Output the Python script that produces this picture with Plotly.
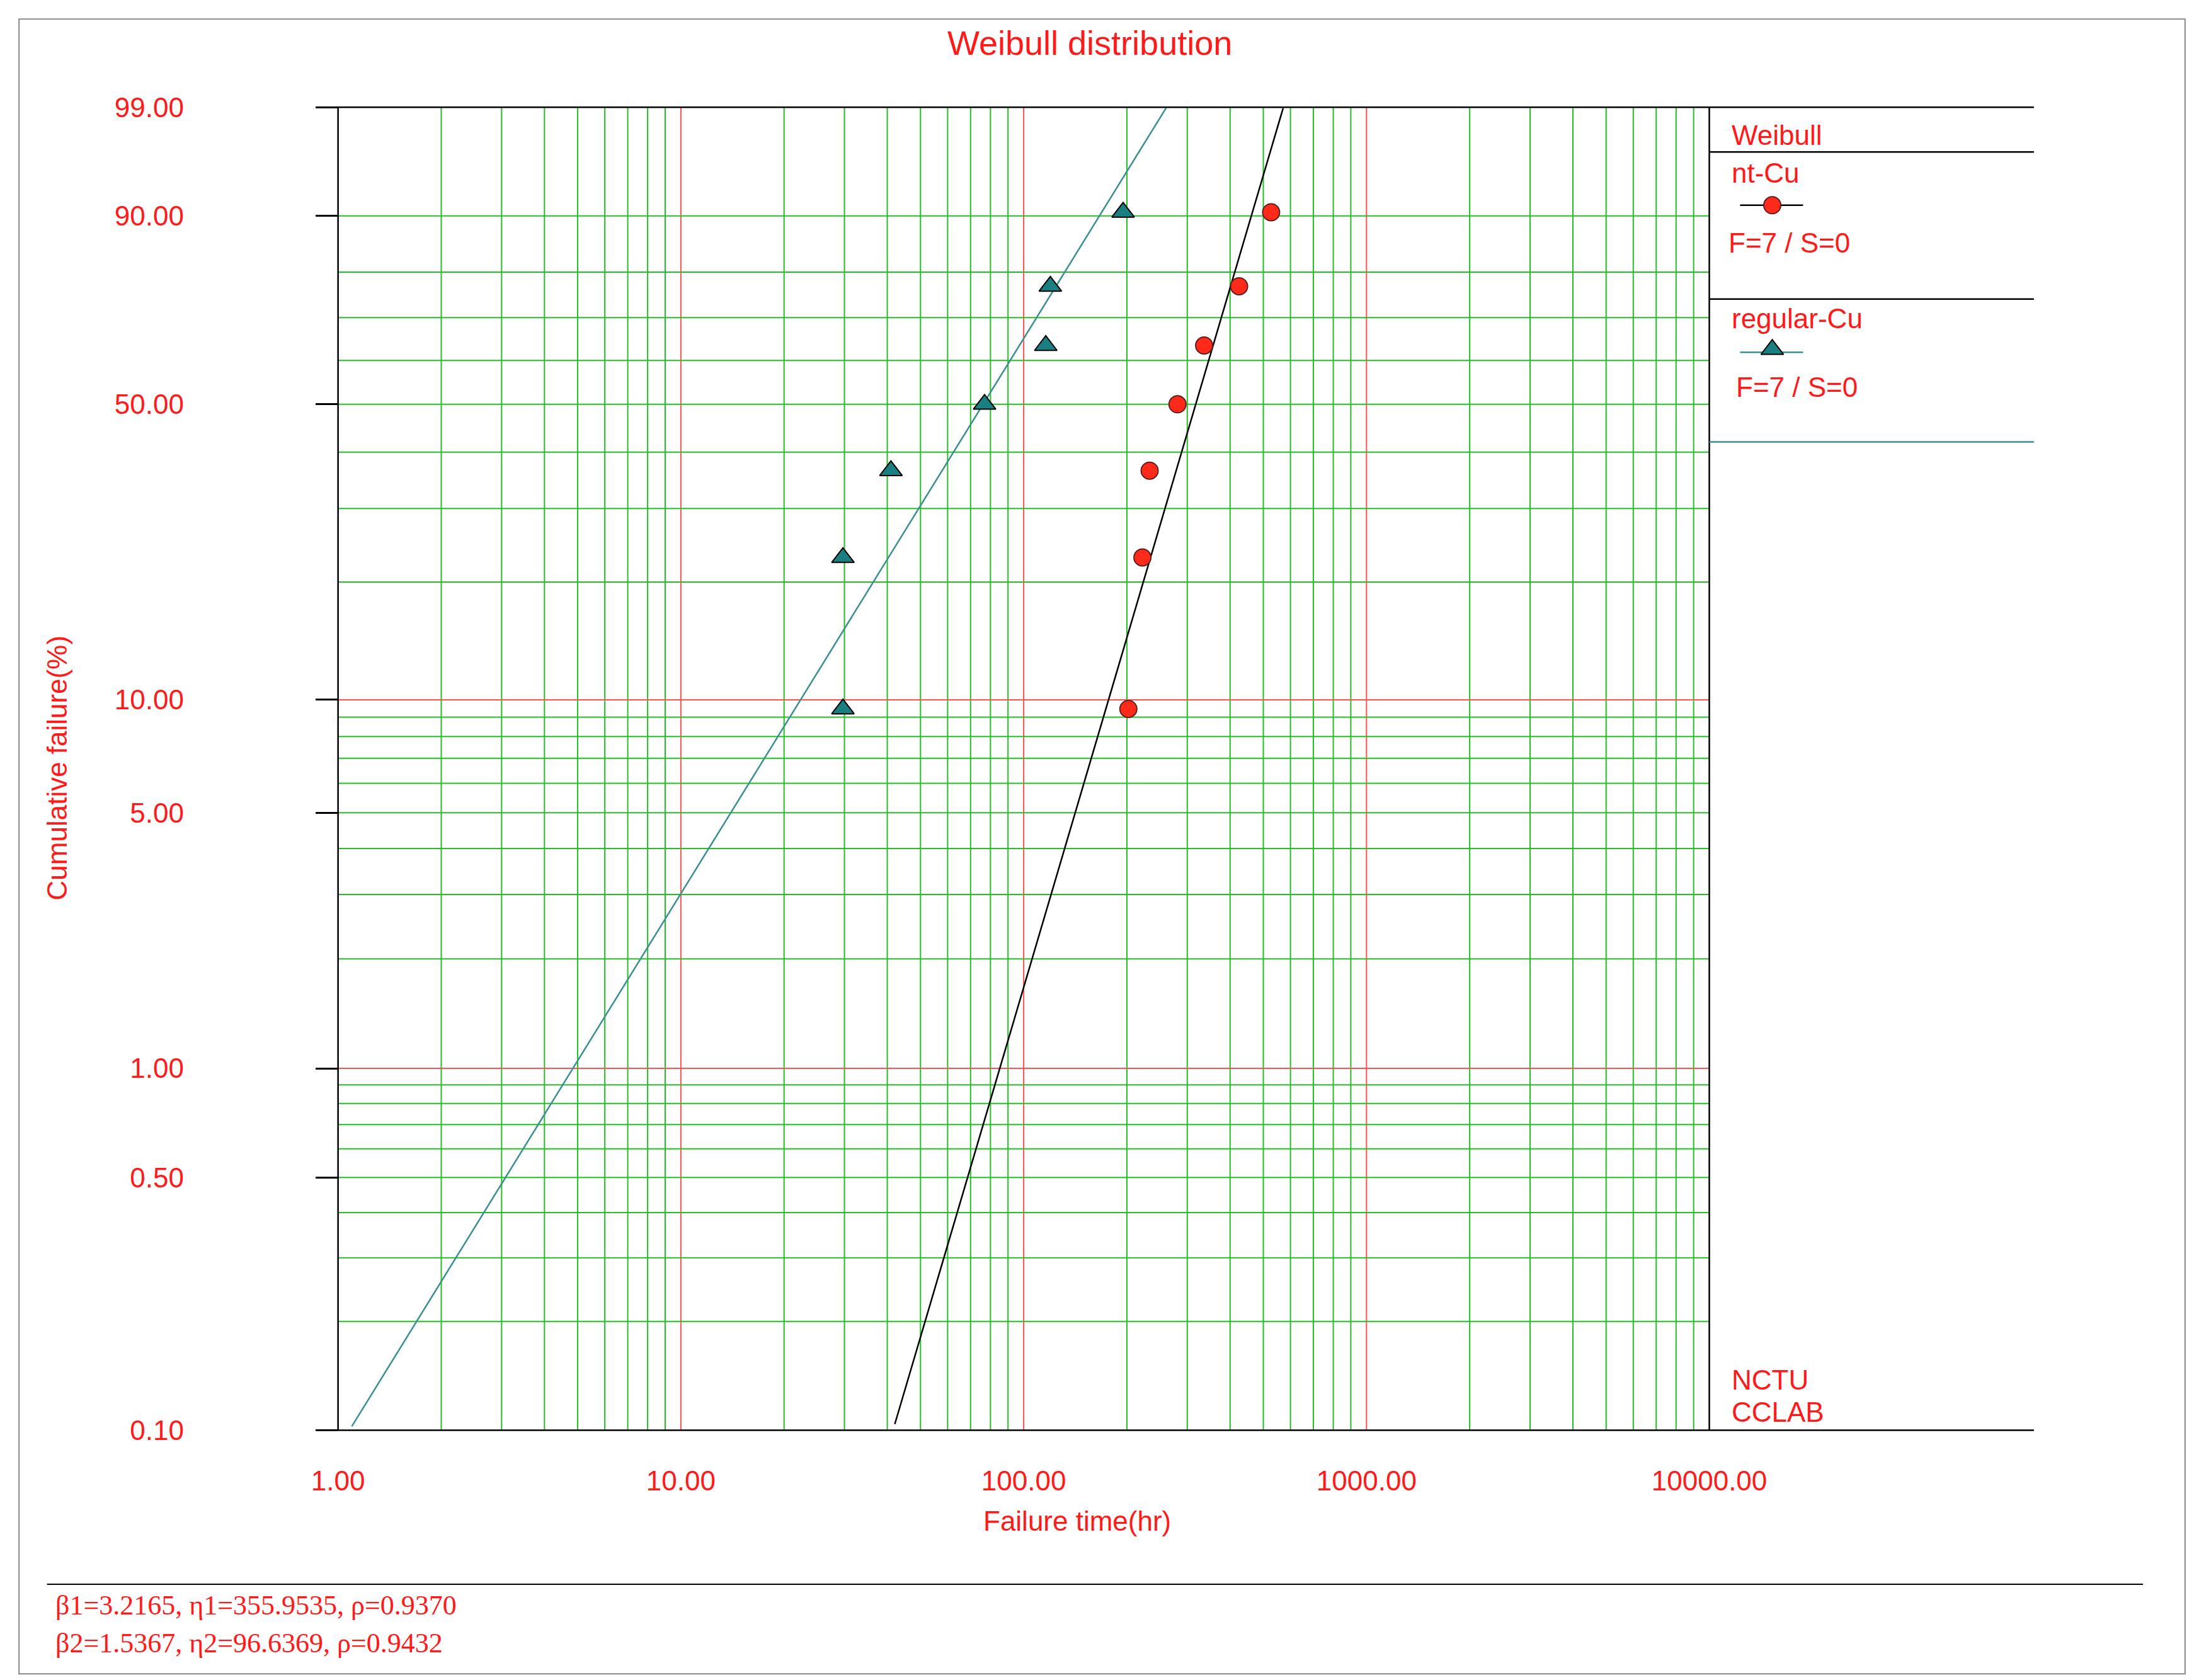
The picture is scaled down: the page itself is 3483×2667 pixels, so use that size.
import numpy as np
import plotly.graph_objects as go

W, H = 3483, 2667
# data
nt_time = [202, 222, 233, 281, 336, 425, 527]
reg_time = [29.7, 29.7, 41, 76.9, 116, 119.6, 195]
F_pct = [9.46, 22.97, 36.49, 50.0, 63.51, 77.03, 90.54]
beta1, eta1 = 3.2165, 355.9535
beta2, eta2 = 1.5367, 96.6369
y_ticks = [0.1, 0.5, 1, 5, 10, 50, 90, 99]
y_tick_text = ["0.10", "0.50", "1.00", "5.00", "10.00", "50.00", "90.00", "99.00"]
y_grid_green = [0.2, 0.3, 0.4, 0.5, 0.6, 0.7, 0.8, 0.9, 2, 3, 4, 5, 6, 7, 8, 9, 20, 30, 40, 50, 60, 70, 80, 90]
y_grid_red = [1, 10]
x_ticks = [1, 10, 100, 1000, 10000]
x_tick_text = ["1.00", "10.00", "100.00", "1000.00", "10000.00"]

def w(p):
    p = np.asarray(p, dtype=float) / 100
    return np.log(-np.log(1 - p))

RED = "#ff1a1a"
GREEN = "#22c022"
GRIDRED = "#ff5050"
TEAL = "#3a9090"
FONT = "Liberation Sans"

def px(x):
    return x / 1568
def py(y):
    return 1 - y / 1200

fig = go.Figure()
ylo, yhi = float(w(0.1)), float(w(99))

shapes = []
for d in range(4):
    for m in range(2, 10):
        shapes.append(dict(type="line", xref="x", yref="y domain", x0=m*10**d, x1=m*10**d, y0=0, y1=1,
                           line=dict(color=GREEN, width=2), layer="below"))
for d in [10, 100, 1000]:
    shapes.append(dict(type="line", xref="x", yref="y domain", x0=d, x1=d, y0=0, y1=1,
                       line=dict(color=GRIDRED, width=2), layer="below"))
for v in y_grid_green:
    shapes.append(dict(type="line", xref="x domain", yref="y", x0=0, x1=1, y0=float(w(v)), y1=float(w(v)),
                       line=dict(color=GREEN, width=2), layer="below"))
for v in y_grid_red:
    shapes.append(dict(type="line", xref="x domain", yref="y", x0=0, x1=1, y0=float(w(v)), y1=float(w(v)),
                       line=dict(color=GRIDRED, width=2), layer="below"))

def pl(x0, y0, x1, y1, color="black", width=2.5):
    shapes.append(dict(type="line", xref="paper", yref="paper", x0=px(x0), x1=px(x1), y0=py(y0), y1=py(y1),
                       line=dict(color=color, width=width)))
pl(222, 73, 1450, 73)
pl(222, 1018, 1450, 1018)
pl(238, 73, 238, 1018)
pl(1218, 73, 1218, 1018)
pl(1218, 105, 1450, 105)
pl(1218, 210, 1450, 210)
pl(1218, 312, 1450, 312, color=TEAL)
pl(30, 1128, 1528, 1128, width=2)
shapes.append(dict(type="rect", xref="paper", yref="paper", x0=px(10), x1=px(1558), y0=py(1192), y1=py(10),
                   line=dict(color="#888888", width=2)))

tt = np.logspace(0, 4, 400)
for b, e, c in [(beta1, eta1, "black"), (beta2, eta2, TEAL)]:
    yy = b * (np.log(tt) - np.log(e))
    m = (yy >= ylo) & (yy <= yhi)
    fig.add_trace(go.Scatter(x=tt[m], y=yy[m], mode="lines", line=dict(color=c, width=2.5), showlegend=False))

circ = dict(symbol="circle", size=27, color="#ff2a1a", line=dict(color="#602020", width=2))
tri = dict(symbol="triangle-up", size=31, color="#1a7f80", line=dict(color="black", width=2))
fig.add_trace(go.Scatter(x=nt_time, y=w(F_pct), mode="markers", marker=circ, showlegend=False))
fig.add_trace(go.Scatter(x=reg_time, y=w(F_pct), mode="markers", marker=tri, showlegend=False))
# legend samples on full-page overlay axis
fig.add_trace(go.Scatter(x=[1240, 1263, 1285], y=[143, 143, 143], xaxis="x2", yaxis="y2", mode="lines",
                         line=dict(color="black", width=2.5), showlegend=False))
fig.add_trace(go.Scatter(x=[1263], y=[143], xaxis="x2", yaxis="y2", mode="markers", marker=circ, showlegend=False))
fig.add_trace(go.Scatter(x=[1240, 1263, 1285], y=[248, 248, 248], xaxis="x2", yaxis="y2", mode="lines",
                         line=dict(color=TEAL, width=2.5), showlegend=False))
fig.add_trace(go.Scatter(x=[1263], y=[246], xaxis="x2", yaxis="y2", mode="markers", marker=tri, showlegend=False))

ann = []
def txt(x, y, s, size=44, xanchor="left", family=FONT, angle=0):
    ann.append(dict(xref="paper", yref="paper", x=px(x), y=py(y), text=s, showarrow=False, xanchor=xanchor,
                    yanchor="middle", textangle=angle, font=dict(family=family, size=size, color=RED)))
txt(775, 27, "Weibull distribution", size=54, xanchor="center")
txt(37, 545, "Cumulative failure(%)", size=44, xanchor="center", angle=-90)
txt(766, 1083, "Failure time(hr)", size=44, xanchor="center")
txt(1233, 93, "Weibull")
txt(1233, 120, "nt-Cu")
txt(1231, 170, "F=7 / S=0")
txt(1233, 224, "regular-Cu")
txt(1236, 273, "F=7 / S=0")
txt(1233, 982, "NCTU")
txt(1233, 1005, "CCLAB")
txt(35, 1143, "β1=3.2165, η1=355.9535, ρ=0.9370", size=44, family="Liberation Serif")
txt(35, 1170, "β2=1.5367, η2=96.6369, ρ=0.9432", size=44, family="Liberation Serif")

fig.update_layout(
    width=W, height=H, margin=dict(l=0, r=0, t=0, b=0, pad=0, autoexpand=False),
    paper_bgcolor="white", plot_bgcolor="rgba(0,0,0,0)",
    shapes=shapes, annotations=ann,
    xaxis=dict(type="log", range=[0, 4], domain=[px(238), px(1218)], showgrid=False, zeroline=False,
               tickvals=x_ticks, ticktext=x_tick_text, ticks="", ticklabelstandoff=50, automargin=False,
               tickfont=dict(family=FONT, size=44, color=RED), showline=False),
    yaxis=dict(range=[ylo, yhi], domain=[py(1018), py(73)], showgrid=False, zeroline=False, automargin=False,
               tickvals=list(w(y_ticks)), ticktext=y_tick_text, ticks="outside", ticklen=35, tickwidth=2.5,
               tickcolor="black", ticklabelstandoff=200, ticklabelposition="outside",
               tickfont=dict(family=FONT, size=44, color=RED), showline=False),
    xaxis2=dict(range=[0, 1568], domain=[0, 1], anchor="y2", visible=False, automargin=False),
    yaxis2=dict(range=[1200, 0], domain=[0, 1], anchor="x2", visible=False, automargin=False),
)
fig.write_html("out.html")
